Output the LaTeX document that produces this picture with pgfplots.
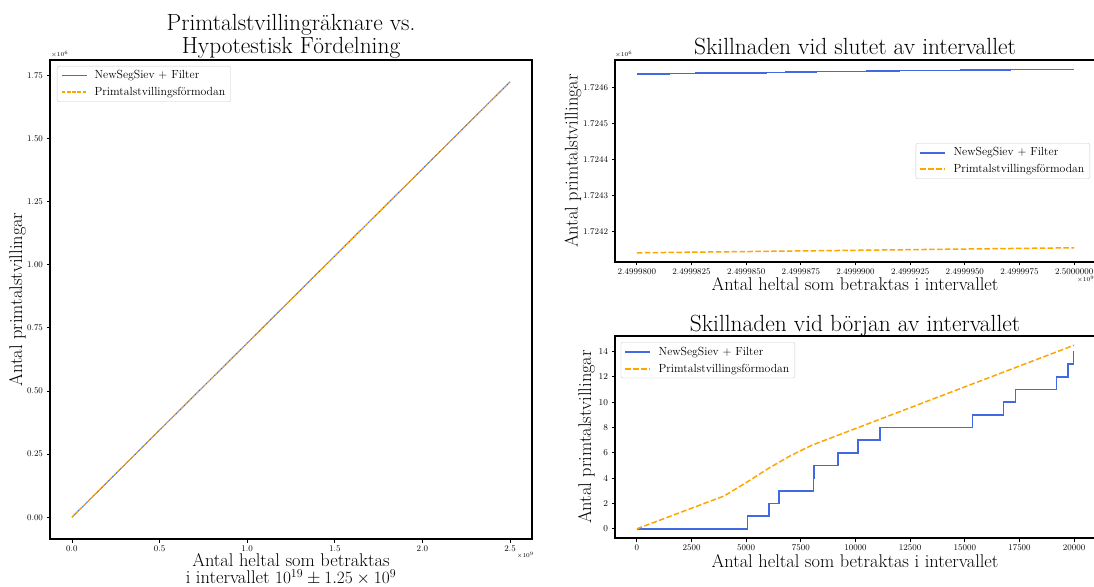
\documentclass[border=0pt]{standalone}
\usepackage{pgfplots}
\pgfplotsset{compat=1.18}
\definecolor{mblue}{HTML}{4169E1}
\definecolor{morange}{HTML}{FFA500}
\pgfplotsset{
  mystyle/.style={
    scale only axis,
    axis line style={line width=1.1pt},
    tick align=outside, xtick pos=bottom, ytick pos=left,
    major tick length=3.5pt,
    every tick/.style={black, line width=0.8pt},
    tick label style={font=\fontsize{8.7}{10}\selectfont},
    scaled ticks=false,
    legend cell align=left,
    legend style={font=\fontsize{11.75}{13}\selectfont, draw=black!20, fill=white, rounded corners=2pt,
      inner xsep=3.5pt, inner ysep=2.5pt, row sep=3pt},
    legend image code/.code={\draw[#1, line width=1.8pt] (0pt,0pt) -- (25pt,0pt); \path (30.5pt,0pt);},
  }
}
\pgfplotstableread{
x y
0 0
5070 1
6050 2
6490 3
8070 4
8110 5
9190 6
10110 7
11130 8
15360 9
16760 10
17320 11
19200 12
19720 13
19960 14
20000 14
}\startcount
\pgfplotstableread{
x y
0 0
1000 0.65
2000 1.3
3000 1.95
4000 2.6
5000 3.65
6000 4.75
7000 5.75
8000 6.6
20000 14.5
}\startconj
\pgfplotstableread{
x y
0 637
1500 638
2700 639
4000 640
5900 641
6800 642
8200 643
9300 644
10500 645
12000 646
13600 647
14800 648
17100 649
20000 649
}\endcount
\pgfplotstableread{
x y
0 140
20000 154
}\endconj
\begin{document}
\begin{tikzpicture}[x=1pt,y=1pt]
\useasboundingbox (0,0) rectangle (1094,586);
% left
\begin{axis}[mystyle, at={(50pt,47pt)}, anchor=south west, width=482pt, height=479pt,
  xmin=-0.125, xmax=2.625, ymin=-0.0862, ymax=1.811,
  xtick={0,0.5,1,1.5,2,2.5}, xticklabels={0.0,0.5,1.0,1.5,2.0,2.5},
  ytick={0,0.25,0.5,0.75,1,1.25,1.5,1.75}, yticklabels={0.00,0.25,0.50,0.75,1.00,1.25,1.50,1.75},
  legend style={at={(axis description cs:0.0145,0.9875)}, anchor=north west}]
\addplot[color=mblue, draw=mblue, line width=1pt] coordinates {(0,0) (0.5,0.34493) (1,0.68986) (1.5,1.03479) (2,1.37972) (2.5,1.724649)};
\addlegendentry{NewSegSiev + Filter}
\addplot[color=morange, draw=morange, line width=1pt, dash pattern=on 3.7pt off 1.6pt] coordinates {(0,0) (0.5,0.34483) (1,0.68966) (1.5,1.03449) (2,1.37932) (2.5,1.724154)};
\addlegendentry{Primtalstvillingsförmodan}
\end{axis}
% top right
\begin{axis}[mystyle, at={(615pt,324pt)}, anchor=south west, width=481pt, height=202pt,
  xmin=-1000, xmax=21000, ymin=114.5, ymax=675.5,
  xtick={0,2500,5000,7500,10000,12500,15000,17500,20000},
  xticklabels={2.4999800,2.4999825,2.4999850,2.4999875,2.4999900,2.4999925,2.4999950,2.4999975,2.5000000},
  ytick={200,300,400,500,600}, yticklabels={1.7242,1.7243,1.7244,1.7245,1.7246},
  legend style={at={(axis description cs:0.9875,0.5)}, anchor=east}]
\addplot[color=mblue, draw=mblue, line width=1.5pt, const plot] table[x=x,y=y] {\endcount};
\addlegendentry{NewSegSiev + Filter}
\addplot[color=morange, draw=morange, line width=1.5pt, dash pattern=on 5.5pt off 2.4pt] table[x=x,y=y] {\endconj};
\addlegendentry{Primtalstvillingsförmodan}
\end{axis}
% bottom right
\begin{axis}[mystyle, at={(615pt,48pt)}, anchor=south west, width=481pt, height=202pt,
  xmin=-1000, xmax=21000, ymin=-0.725, ymax=15.225,
  xtick={0,2500,5000,7500,10000,12500,15000,17500,20000},
  xticklabels={0,2500,5000,7500,10000,12500,15000,17500,20000},
  ytick={0,2,4,6,8,10,12,14},
  legend style={at={(axis description cs:0.012,0.969)}, anchor=north west}]
\addplot[color=mblue, draw=mblue, line width=1.5pt, const plot] table[x=x,y=y] {\startcount};
\addlegendentry{NewSegSiev + Filter}
\addplot[color=morange, draw=morange, line width=1.5pt, dash pattern=on 5.5pt off 2.4pt] table[x=x,y=y] {\startconj};
\addlegendentry{Primtalstvillingsförmodan}
\end{axis}
% titles and labels
\node[font=\fontsize{23.4}{22.6}\selectfont, align=center, anchor=base, inner sep=0pt] at (291,532.7) {Primtalstvillingräknare vs.\\Hypotestisk Fördelning};
\node[font=\fontsize{23.4}{22.6}\selectfont, anchor=base, inner sep=0pt] at (855,531) {Skillnaden vid slutet av intervallet};
\node[font=\fontsize{23.4}{22.6}\selectfont, anchor=base, inner sep=0pt] at (855,254.3) {Skillnaden vid början av intervallet};
\node[font=\fontsize{18.4}{16.5}\selectfont, align=center, anchor=base, inner sep=0pt] at (291,2.7) {Antal heltal som betraktas\\i intervallet $10^{19}\pm 1.25\times 10^{9}$};
\node[font=\fontsize{18.4}{17.5}\selectfont, anchor=base, inner sep=0pt] at (855,295) {Antal heltal som betraktas i intervallet};
\node[font=\fontsize{18.4}{17.5}\selectfont, anchor=base, inner sep=0pt] at (855,18.3) {Antal heltal som betraktas i intervallet};
\node[font=\fontsize{18.4}{17.5}\selectfont, anchor=base, rotate=90, inner sep=0pt] at (22,286.5) {Antal primtalstvillingar};
\node[font=\fontsize{18.4}{17.5}\selectfont, anchor=base, rotate=90, inner sep=0pt] at (577.5,425) {Antal primtalstvillingar};
\node[font=\fontsize{18.4}{17.5}\selectfont, anchor=base, rotate=90, inner sep=0pt] at (591,149) {Antal primtalstvillingar};
% scale labels
\node[font=\fontsize{6.5}{7}\selectfont, anchor=south west, inner sep=0pt] at (51,528) {$\times10^{6}$};
\node[font=\fontsize{6.5}{7}\selectfont, anchor=north east, inner sep=0pt] at (534,34) {$\times10^{9}$};
\node[font=\fontsize{6.5}{7}\selectfont, anchor=south west, inner sep=0pt] at (615,528) {$\times10^{6}$};
\node[font=\fontsize{6.5}{7}\selectfont, anchor=north west, inner sep=0pt] at (1077,310) {$\times10^{9}$};
\end{tikzpicture}
\end{document}
